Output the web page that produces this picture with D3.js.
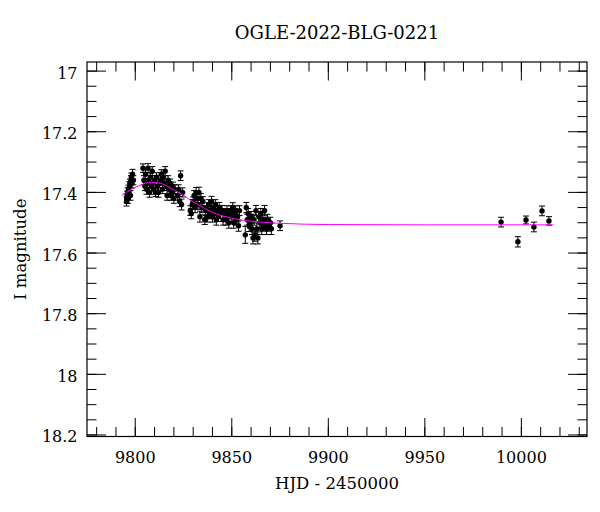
<!DOCTYPE html>
<html><head><meta charset="utf-8">
<script src="https://cdn.jsdelivr.net/npm/d3@7/dist/d3.min.js"></script>
<style>body{margin:0;background:#fff}svg{display:block}text{font-family:"DejaVu Serif",serif;fill:#000}</style>
</head><body>
<script>
const title = "OGLE-2022-BLG-0221";
const xLabel = "HJD - 2450000";
const yLabel = "I magnitude";
const xTickValues = [9800, 9850, 9900, 9950, 10000];
const yTickValues = [17, 17.2, 17.4, 17.6, 17.8, 18, 18.2];
const yTickLabels = ["17", "17.2", "17.4", "17.6", "17.8", "18", "18.2"];

const hjd = [9795.5,9795.6,9795.8,9796.0,9796.2,9796.5,9796.7,9797.0,9797.2,9797.5,9797.8,9798.0,9798.3,9798.6,9799.0,
9804.0,9804.5,9805.0,9805.3,9805.8,9806.2,9806.6,9807.0,9807.4,9807.8,9808.3,9808.8,9809.2,9809.6,9810.0,9810.5,9811.0,9811.5,9812.0,9812.5,9813.0,9813.5,9814.0,9814.5,9815.0,9815.5,9816.0,9816.5,9817.0,9817.5,9818.0,9818.5,9819.0,9819.5,9820.0,9820.5,
9822.0,9822.5,9823.0,9823.5,9824.0,9824.5,
9828.5,9829.0,9829.5,9830.0,9830.5,9831.0,9831.5,9832.0,9832.5,9833.0,9833.5,9834.0,9834.5,9835.0,
9836.0,9836.5,9837.0,9837.5,9838.0,9838.5,9839.0,9839.5,9840.0,9840.5,9841.0,9841.5,9842.0,9842.5,9843.0,9843.5,9844.0,9845.0,9845.5,
9846.5,9847.0,9847.5,9848.0,9848.5,9849.0,9849.5,9850.0,9850.5,9851.0,9851.5,9852.0,9852.5,9853.0,9853.5,9854.0,
9857.0,9857.5,9858.0,9858.5,9859.0,9859.5,9860.0,9860.5,9861.0,9861.5,9862.0,9862.5,9863.0,9863.5,
9864.0,9864.5,9865.0,9865.5,9866.0,9866.5,9867.0,9867.5,9868.0,9868.5,9869.0,9870.0,9870.5,
9875.0,
9989.5,9998.2,10002.4,10006.5,10010.7,10014.3];
const mag = [17.43,17.42,17.41,17.40,17.42,17.39,17.40,17.38,17.37,17.41,17.36,17.35,17.37,17.34,17.36,
17.32,17.36,17.38,17.34,17.39,17.37,17.32,17.36,17.40,17.35,17.38,17.33,17.37,17.39,17.36,17.40,17.35,17.38,17.40,17.37,17.36,17.34,17.39,17.35,17.37,17.33,17.38,17.41,17.36,17.39,17.37,17.41,17.40,17.38,17.42,17.39,
17.41,17.39,17.43,17.345,17.44,17.40,
17.46,17.47,17.44,17.43,17.41,17.45,17.40,17.42,17.44,17.40,17.48,17.42,17.45,17.43,
17.49,17.46,17.45,17.48,17.44,17.47,17.46,17.43,17.48,17.45,17.47,17.44,17.49,17.46,17.48,17.45,17.47,17.46,17.49,
17.47,17.49,17.46,17.48,17.50,17.47,17.46,17.48,17.45,17.50,17.47,17.46,17.49,17.48,17.51,17.46,
17.54,17.45,17.49,17.47,17.51,17.50,17.48,17.52,17.55,17.49,17.54,17.46,17.52,17.55,
17.48,17.50,17.47,17.52,17.49,17.51,17.46,17.50,17.52,17.49,17.51,17.50,17.52,
17.51,
17.498,17.563,17.491,17.514,17.461,17.494];
const err = [0.015,0.015,0.014,0.015,0.016,0.014,0.015,0.015,0.014,0.016,0.015,0.014,0.015,0.016,0.015,
0.014,0.015,0.014,0.015,0.016,0.014,0.015,0.015,0.016,0.014,0.015,0.015,0.014,0.016,0.015,0.014,0.015,0.015,0.016,0.014,0.015,0.015,0.014,0.016,0.015,0.015,0.014,0.016,0.015,0.015,0.014,0.016,0.015,0.014,0.016,0.015,
0.016,0.015,0.017,0.016,0.018,0.015,
0.016,0.017,0.016,0.015,0.016,0.017,0.016,0.015,0.016,0.017,0.018,0.016,0.017,0.016,
0.016,0.017,0.016,0.018,0.016,0.017,0.016,0.017,0.018,0.016,0.017,0.016,0.018,0.017,0.016,0.017,0.016,0.017,0.018,
0.017,0.018,0.016,0.017,0.018,0.017,0.016,0.017,0.016,0.018,0.017,0.016,0.018,0.017,0.018,0.016,
0.028,0.017,0.018,0.017,0.019,0.018,0.017,0.019,0.020,0.018,0.021,0.017,0.019,0.020,
0.017,0.018,0.017,0.019,0.018,0.018,0.017,0.018,0.019,0.018,0.018,0.018,0.019,
0.016,
0.016,0.017,0.013,0.016,0.016,0.014];

const modelHjd = [9793,9798,9803,9808,9813,9818,9823,9828,9833,9840,9848,9856,9865,9875,9900,9950,10016.5];
const modelMag = [17.41,17.39,17.375,17.367,17.37,17.385,17.402,17.423,17.442,17.466,17.482,17.492,17.498,17.502,17.506,17.507,17.507];

const W = 600, H = 512;
const L = 87, R = 587, T = 62, B = 436.5;
const svg = d3.select("body").append("svg").attr("width", W).attr("height", H);

const x = d3.scaleLinear().domain([9775, 10034]).range([L, R]);
const y = d3.scaleLinear().domain([16.97, 18.205]).range([T, B]);

const xMinor = d3.range(9780, 10031, 10);
const yMinor = d3.range(0, 25).map(i => +(17 + i * 0.05).toFixed(2));

const g = svg.append("g");
function tickSet(values, major) {
  const len = major ? 18.5 : 9.5;
  values.forEach(v => {
    const px = x(v);
    if (px < L || px > R) return;
    g.append("line").attr("x1", px).attr("x2", px).attr("y1", B).attr("y2", B - len).attr("stroke", "#000");
    g.append("line").attr("x1", px).attr("x2", px).attr("y1", T).attr("y2", T + len).attr("stroke", "#000");
  });
}
tickSet(xMinor, false);
tickSet(xTickValues, true);
function ytickSet(values, major) {
  const len = major ? 19 : 9.5;
  values.forEach(v => {
    const py = y(v);
    if (py < T || py > B) return;
    g.append("line").attr("y1", py).attr("y2", py).attr("x1", L).attr("x2", L + len).attr("stroke", "#000");
    g.append("line").attr("y1", py).attr("y2", py).attr("x1", R).attr("x2", R - len).attr("stroke", "#000");
  });
}
ytickSet(yMinor, false);
ytickSet(yTickValues, true);

svg.append("rect").attr("x", L).attr("y", T).attr("width", R - L).attr("height", B - T)
  .attr("fill", "none").attr("stroke", "#000").attr("stroke-width", 1.2);

svg.selectAll(".xl").data(xTickValues).enter().append("text")
  .attr("x", d => x(d)).attr("y", 463).attr("text-anchor", "middle").attr("font-size", 16).text(d => d);
svg.selectAll(".yl").data(yTickValues).enter().append("text")
  .attr("x", 77.5).attr("y", d => y(d) + 7.5).attr("text-anchor", "end").attr("font-size", 16)
  .text((d, i) => yTickLabels[i]);

svg.append("text").attr("x", (L + R) / 2).attr("y", 489).attr("text-anchor", "middle").attr("font-size", 16.5).text(xLabel);
svg.append("text").attr("transform", `translate(26,${(T + B) / 2}) rotate(-90)`).attr("text-anchor", "middle").attr("font-size", 16.5).text(yLabel);
svg.append("text").attr("x", (L + R) / 2).attr("y", 39).attr("text-anchor", "middle").attr("font-size", 18).text(title);

const pts = hjd.map((h, i) => ({h, m: mag[i], e: err[i]}));
const dg = svg.append("g");
pts.forEach(p => {
  const px = x(p.h), y1 = y(p.m - p.e), y2 = y(p.m + p.e);
  dg.append("line").attr("x1", px).attr("x2", px).attr("y1", y1).attr("y2", y2).attr("stroke", "#000");
  dg.append("line").attr("x1", px - 3).attr("x2", px + 3).attr("y1", y1).attr("y2", y1).attr("stroke", "#000");
  dg.append("line").attr("x1", px - 3).attr("x2", px + 3).attr("y1", y2).attr("y2", y2).attr("stroke", "#000");
});
dg.selectAll("circle").data(pts).enter().append("circle")
  .attr("cx", d => x(d.h)).attr("cy", d => y(d.m)).attr("r", 2.7).attr("fill", "#000");

const line = d3.line().x(d => x(d[0])).y(d => y(d[1])).curve(d3.curveMonotoneX);
svg.append("path").datum(modelHjd.map((h, i) => [h, modelMag[i]]))
  .attr("d", line).attr("fill", "none").attr("stroke", "#ff00ff").attr("stroke-width", 1);
</script>
</body></html>
